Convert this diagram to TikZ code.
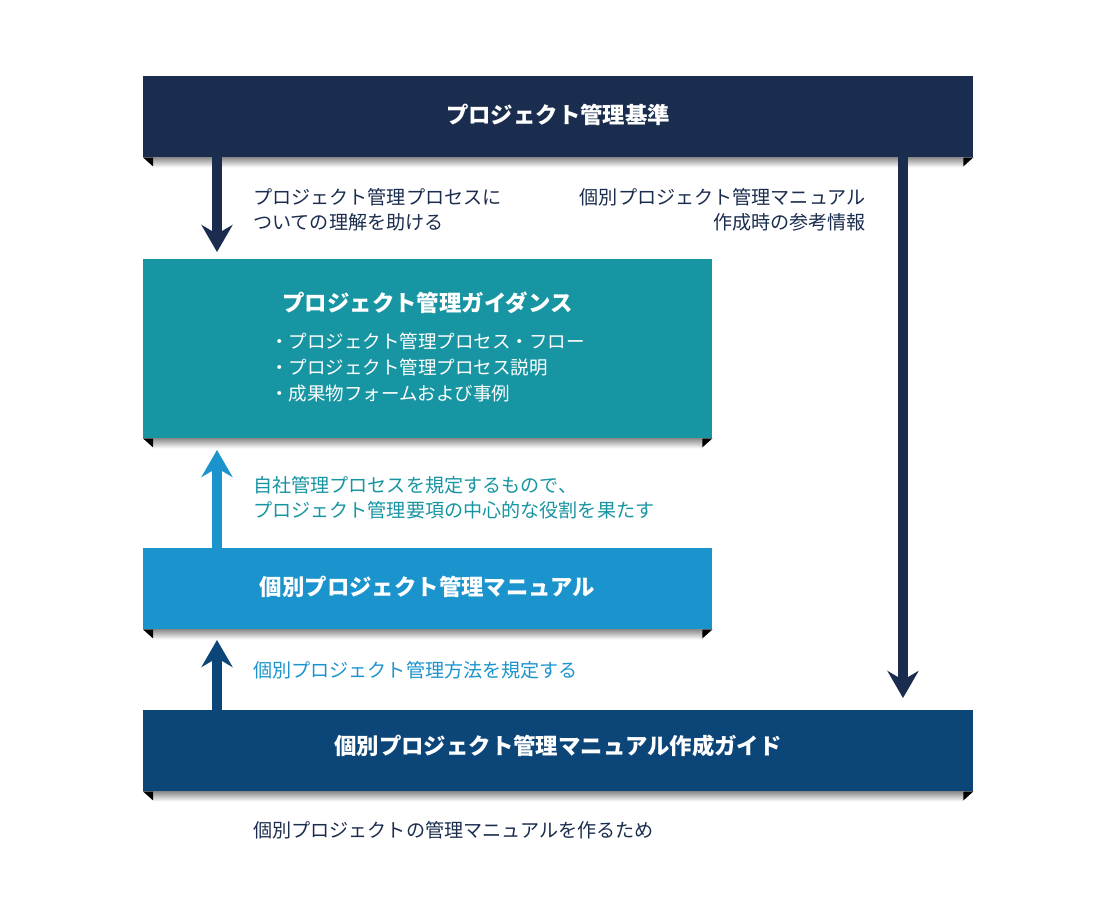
\documentclass[tikz,border=0pt]{standalone}
\usepackage{fontspec}
\setmainfont{Noto Sans CJK JP}
\usetikzlibrary{arrows.meta,shadings}
\definecolor{navy}{RGB}{27,45,79}
\definecolor{teal2}{RGB}{24,149,162}
\definecolor{lblue}{RGB}{27,148,206}
\definecolor{dblue}{RGB}{12,70,121}
\tikzset{
  box/.style={draw=none,minimum height=81pt,inner sep=0pt,anchor=north west},
  title/.style={text=white,font=\bfseries\fontsize{22.4}{26}\selectfont},
  lbl/.style={font=\fontsize{19.1}{25}\selectfont,inner sep=0pt},
  bul/.style={text=white,font=\fontsize{18.5}{26}\selectfont,inner sep=0pt,align=left},
  arr/.style={line width=10pt,-{Stealth[width=31pt,length=27pt,inset=9pt]}},
}
\newcommand{\boxshadow}[1]{%
  \shade[top color=black!45,bottom color=white] ([xshift=10pt]#1.south west) rectangle ([xshift=-10pt,yshift=-10pt]#1.south east);
  \fill[black] (#1.south west) -- ([xshift=10pt]#1.south west) -- ([xshift=10pt,yshift=-9pt]#1.south west) -- cycle;
  \fill[black] (#1.south east) -- ([xshift=-10pt]#1.south east) -- ([xshift=-10pt,yshift=-9pt]#1.south east) -- cycle;
}
\begin{document}
\begin{tikzpicture}[x=1pt,y=-1pt]
\useasboundingbox[fill=white] (0,0) rectangle (1116,902);
% boxes
\node[box,fill=navy,minimum width=830pt,minimum height=81pt] (std) at (143,76) {};
\node[box,fill=teal2,minimum width=569pt,minimum height=179pt] (gd) at (143,259) {};
\node[box,fill=lblue,minimum width=569pt,minimum height=81pt] (man) at (143,548) {};
\node[box,fill=dblue,minimum width=830pt,minimum height=81pt] (gide) at (143,710) {};
\boxshadow{std}
\boxshadow{gd}
\boxshadow{man}
\boxshadow{gide}
% titles
\node[title] (tstd) at (558,115) {プロジェクト管理基準};
\node[title] (tgd) at (427.5,303) {プロジェクト管理ガイダンス};
\node[bul,anchor=north west] (bl) at (270,333) {・プロジェクト管理プロセス・フロー\\・プロジェクト管理プロセス説明\\・成果物フォームおよび事例};
\node[title] (tman) at (427.5,587) {個別プロジェクト管理マニュアル};
\node[title] (tgide) at (558,746) {個別プロジェクト管理マニュアル作成ガイド};
% arrow end coordinates
\coordinate (a1e) at (217,252);
\coordinate (a2e) at (903,698);
\coordinate (a3e) at (217,450);
\coordinate (a4e) at (217,640);
\draw[arr,navy] (std.south -| a1e) -- (a1e);
\draw[arr,navy] (std.south -| a2e) -- (a2e);
\draw[arr,lblue] (man.north -| a3e) -- (a3e);
\draw[arr,dblue] (gide.north -| a4e) -- (a4e);
% labels
\node[lbl,text=navy,anchor=west,align=left] (l1) at (253,209.5) {プロジェクト管理プロセスに\\ついての理解を助ける};
\node[lbl,text=navy,anchor=east,align=right] (l2) at (866,209.5) {個別プロジェクト管理マニュアル\\作成時の参考情報};
\node[lbl,text=teal2,anchor=west,align=left] (l3) at (253,497.5) {自社管理プロセスを規定するもので、\\プロジェクト管理要項の中心的な役割を果たす};
\node[lbl,text=lblue,anchor=west] (l4) at (253,670) {個別プロジェクト管理方法を規定する};
\node[lbl,text=navy,anchor=west] (l5) at (253,830) {個別プロジェクトの管理マニュアルを作るため};
\end{tikzpicture}
\end{document}
